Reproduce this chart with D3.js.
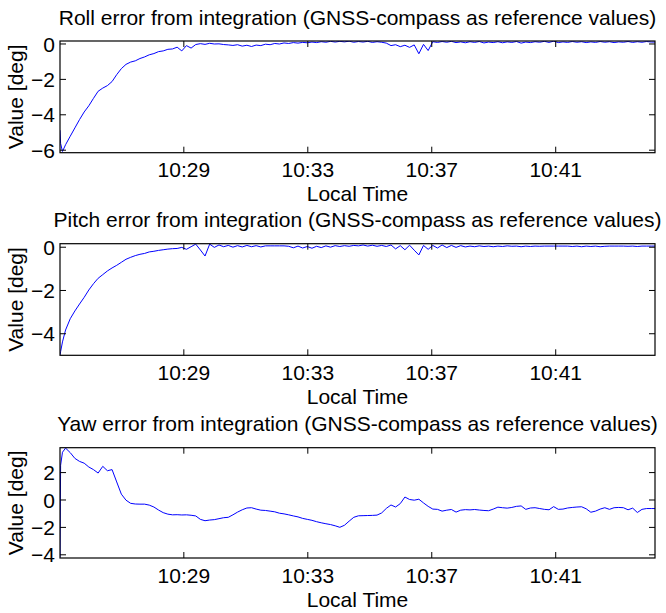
<!DOCTYPE html>
<html>
<head>
<meta charset="utf-8">
<script src="https://cdn.jsdelivr.net/npm/d3@7/dist/d3.min.js"></script>
<style>
  html, body { margin: 0; padding: 0; background: #fff; }
  svg { display: block; }
  text { font-family: "Liberation Sans", Arial, Helvetica, sans-serif; fill: #000; }
</style>
</head>
<body>
<svg id="chart" width="666" height="613"></svg>
<script>
// Sample times, minutes past 10:00 local time
const timeMinutes = [
  25.02, 25.04, 25.10, 25.20, 25.35, 25.50, 25.65, 25.80, 25.95, 26.10,
  26.25, 26.40, 26.55, 26.70, 26.85, 27.00, 27.15, 27.30, 27.45, 27.60,
  27.75, 27.90, 28.05, 28.20, 28.35, 28.50, 28.65, 28.80, 28.95, 29.10,
  29.25, 29.40, 29.55, 29.70, 29.85, 30.00, 30.15, 30.30, 30.45, 30.60,
  30.75, 30.90, 31.05, 31.20, 31.35, 31.50, 31.65, 31.80, 31.95, 32.10,
  32.25, 32.40, 32.55, 32.70, 32.85, 33.00, 33.15, 33.30, 33.45, 33.60,
  33.75, 33.90, 34.05, 34.20, 34.35, 34.50, 34.65, 34.80, 34.95, 35.10,
  35.25, 35.40, 35.55, 35.70, 35.85, 36.00, 36.15, 36.30, 36.45, 36.60,
  36.75, 36.90, 37.05, 37.20, 37.35, 37.50, 37.65, 37.80, 37.95, 38.10,
  38.25, 38.40, 38.55, 38.70, 38.85, 39.00, 39.15, 39.30, 39.45, 39.60,
  39.75, 39.90, 40.05, 40.20, 40.35, 40.50, 40.65, 40.80, 40.95, 41.10,
  41.25, 41.40, 41.55, 41.70, 41.85, 42.00, 42.15, 42.30, 42.45, 42.60,
  42.75, 42.90, 43.05, 43.20, 43.35, 43.50, 43.65, 43.80, 43.95, 44.10,
  44.22
];

// Roll error [deg]
const rollError = [
  -4.90, -5.65, -6.10, -5.72, -5.24, -4.77, -4.30, -3.87, -3.52, -3.10,
  -2.70, -2.52, -2.38, -2.15, -1.76, -1.42, -1.18, -1.05, -0.98, -0.85,
  -0.76, -0.64, -0.57, -0.46, -0.42, -0.33, -0.31, -0.21, -0.42, -0.12,
  -0.26, -0.06, -0.01, -0.05, 0.01, -0.03, -0.02, -0.06, -0.08, -0.11,
  -0.07, -0.15, -0.10, -0.17, -0.09, -0.12, -0.04, -0.07, 0.00, -0.03,
  0.03, 0.00, 0.05, 0.02, 0.06, 0.04, 0.08, 0.05, 0.10, 0.07,
  0.12, 0.08, 0.12, 0.09, 0.13, 0.07, 0.11, 0.08, 0.12, 0.06,
  0.10, 0.07, 0.02, -0.12, -0.07, -0.18, -0.10, -0.22, -0.08, -0.58,
  -0.05, -0.40, 0.10, 0.06, 0.11, 0.07, 0.12, 0.05, 0.09, 0.04,
  0.10, 0.06, 0.11, 0.03, 0.08, 0.05, 0.10, 0.04, 0.09, 0.06,
  0.11, 0.02, 0.08, 0.05, 0.10, 0.07, 0.12, 0.06, 0.13, 0.05,
  0.09, 0.06, 0.11, 0.07, 0.10, 0.05, 0.09, 0.06, 0.11, 0.07,
  0.10, 0.05, 0.09, 0.07, 0.11, 0.06, 0.10, 0.07, 0.11, 0.08,
  0.08
];

// Pitch error [deg]
const pitchError = [
  -5.00, -4.85, -4.40, -3.85, -3.33, -2.97, -2.65, -2.34, -2.00, -1.71,
  -1.46, -1.29, -1.12, -0.98, -0.86, -0.72, -0.58, -0.49, -0.41, -0.35,
  -0.31, -0.24, -0.21, -0.17, -0.14, -0.11, -0.09, -0.08, -0.03, -0.12,
  0.00, 0.12, -0.15, -0.43, 0.12, -0.03, 0.08, 0.00, 0.06, -0.02,
  0.05, -0.01, 0.06, 0.00, 0.05, -0.01, 0.04, 0.04, 0.04, 0.04,
  0.04, 0.02, -0.05, 0.03, -0.06, 0.01, -0.07, 0.02, -0.04, 0.04,
  -0.02, 0.05, 0.01, 0.05, 0.02, 0.06, 0.04, 0.08, 0.03, 0.07,
  0.02, 0.06, 0.01, 0.08, -0.10, 0.05, -0.14, 0.07, -0.16, -0.38,
  0.06, -0.12, 0.06, -0.06, 0.08, -0.04, 0.06, -0.03, 0.05, -0.01,
  0.03, 0.00, 0.04, 0.01, 0.03, 0.00, 0.03, 0.01, 0.04, 0.02,
  0.03, 0.00, 0.03, 0.01, 0.03, 0.02, 0.03, 0.03, 0.03, 0.03,
  0.03, 0.03, 0.01, 0.03, 0.00, 0.03, 0.01, 0.03, 0.00, 0.02,
  0.03, 0.03, 0.03, 0.03, 0.02, 0.03, 0.01, 0.03, 0.03, 0.03,
  0.03
];

// Yaw error [deg]
const yawError = [
  -4.20, 2.50, 3.45, 3.75, 3.42, 3.00, 2.78, 2.65, 2.37, 2.18,
  1.93, 2.42, 2.10, 2.18, 1.28, 0.39, -0.05, -0.28, -0.33, -0.34,
  -0.34, -0.41, -0.55, -0.77, -0.96, -1.07, -1.12, -1.11, -1.13, -1.12,
  -1.15, -1.20, -1.45, -1.55, -1.50, -1.47, -1.40, -1.33, -1.30, -1.12,
  -0.92, -0.75, -0.62, -0.60, -0.70, -0.78, -0.80, -0.85, -0.90, -1.00,
  -1.05, -1.12, -1.20, -1.27, -1.38, -1.45, -1.52, -1.62, -1.70, -1.77,
  -1.83, -1.92, -2.03, -1.88, -1.58, -1.30, -1.19, -1.18, -1.17, -1.16,
  -1.14, -0.98, -0.65, -0.40, -0.55, -0.30, 0.18, 0.00, -0.05, 0.02,
  -0.25, -0.50, -0.70, -0.72, -0.85, -0.78, -0.73, -0.92, -0.78, -0.74,
  -0.76, -0.73, -0.77, -0.80, -0.82, -0.70, -0.56, -0.60, -0.63, -0.58,
  -0.50, -0.47, -0.72, -0.62, -0.60, -0.66, -0.72, -0.75, -0.52, -0.72,
  -0.70, -0.62, -0.58, -0.55, -0.53, -0.68, -0.93, -0.85, -0.70, -0.60,
  -0.72, -0.60, -0.58, -0.60, -0.75, -0.63, -0.95, -0.72, -0.66, -0.66,
  -0.66
];

const xTickLabels = ["10:29", "10:33", "10:37", "10:41"];
const rollTicks = [0, -2, -4, -6];
const pitchTicks = [0, -2, -4];
const yawTicks = [2, 0, -2, -4];

const panelTitles = [
  "Roll error from integration (GNSS-compass as reference values)",
  "Pitch error from integration (GNSS-compass as reference values)",
  "Yaw error from integration (GNSS-compass as reference values)"
];

const fontSize = 21;
const plotLeft = 60, plotRight = 655;
const tickLen = 6;

const svg = d3.select("#chart");
const parseHM = d3.timeParse("%H:%M");
const baseTime = parseHM("10:00");
const toDate = m => new Date(baseTime.getTime() + m * 60000);

const x = d3.scaleTime()
  .domain([toDate(timeMinutes[0]), toDate(timeMinutes[timeMinutes.length - 1])])
  .range([plotLeft, plotRight]);

const panels = [
  { title: panelTitles[0], values: rollError,  domain: [-6.17, 0.14], ticks: rollTicks,  top: 41,    bottom: 152.7 },
  { title: panelTitles[1], values: pitchError, domain: [-5.02, 0.14], ticks: pitchTicks, top: 243.7, bottom: 355.3 },
  { title: panelTitles[2], values: yawError,   domain: [-4.27, 3.78], ticks: yawTicks,   top: 447.7, bottom: 558 }
];

const xTickDates = xTickLabels.map(parseHM);
const fmt = d3.timeFormat("%H:%M");

panels.forEach((p, i) => {
  const y = d3.scaleLinear().domain(p.domain).range([p.bottom, p.top]);
  const g = svg.append("g");

  const clipId = "clip" + i;
  svg.append("clipPath").attr("id", clipId)
    .append("rect")
    .attr("x", plotLeft).attr("y", p.top)
    .attr("width", plotRight - plotLeft).attr("height", p.bottom - p.top);

  // data line
  const series = timeMinutes.map((m, k) => ({ t: toDate(m), v: p.values[k] }));
  g.append("path")
    .datum(series)
    .attr("clip-path", `url(#${clipId})`)
    .attr("fill", "none")
    .attr("stroke", "#0000ff")
    .attr("stroke-width", 1)
    .attr("stroke-linejoin", "round")
    .attr("d", d3.line().x(d => x(d.t)).y(d => y(d.v)));

  // axes with inward ticks on all four sides
  const styleAxis = sel => {
    sel.select(".domain").remove();
    sel.selectAll(".tick line").attr("stroke", "#000").attr("stroke-width", 1);
    sel.selectAll("text")
      .style("font-size", fontSize + "px")
      .style("font-family", "'Liberation Sans', Arial, sans-serif")
      .attr("fill", "#000");
  };

  const bottomAxis = g.append("g")
    .attr("transform", `translate(0,${p.bottom})`)
    .call(d3.axisBottom(x).tickValues(xTickDates).tickFormat(fmt).tickSize(-tickLen).tickSizeOuter(0))
    .call(styleAxis);
  bottomAxis.selectAll("text").attr("y", 24.7).attr("dy", null);

  g.append("g")
    .attr("transform", `translate(0,${p.top})`)
    .call(d3.axisTop(x).tickValues(xTickDates).tickFormat("").tickSize(-tickLen).tickSizeOuter(0))
    .call(styleAxis);

  const leftAxis = g.append("g")
    .attr("transform", `translate(${plotLeft},0)`)
    .call(d3.axisLeft(y).tickValues(p.ticks).tickFormat(d3.format("d")).tickSize(-tickLen).tickSizeOuter(0).tickPadding(5))
    .call(styleAxis);
  leftAxis.selectAll("text").attr("dy", "0.36em");

  g.append("g")
    .attr("transform", `translate(${plotRight},0)`)
    .call(d3.axisRight(y).tickValues(p.ticks).tickFormat("").tickSize(-tickLen).tickSizeOuter(0))
    .call(styleAxis);

  // frame
  g.append("rect")
    .attr("x", plotLeft).attr("y", p.top)
    .attr("width", plotRight - plotLeft).attr("height", p.bottom - p.top)
    .attr("fill", "none").attr("stroke", "#000").attr("stroke-width", 1.2);

  // title
  g.append("text")
    .attr("x", (plotLeft + plotRight) / 2).attr("y", p.top - 16.5)
    .attr("text-anchor", "middle")
    .style("font-size", fontSize + "px")
    .text(p.title);

  // x label
  g.append("text")
    .attr("x", (plotLeft + plotRight) / 2).attr("y", p.bottom + 48.5)
    .attr("text-anchor", "middle")
    .style("font-size", fontSize + "px")
    .text("Local Time");

  // y label
  g.append("text")
    .attr("transform", `translate(23,${(p.top + p.bottom) / 2}) rotate(-90)`)
    .attr("text-anchor", "middle")
    .style("font-size", fontSize + "px")
    .text("Value [deg]");
});
</script>
</body>
</html>
